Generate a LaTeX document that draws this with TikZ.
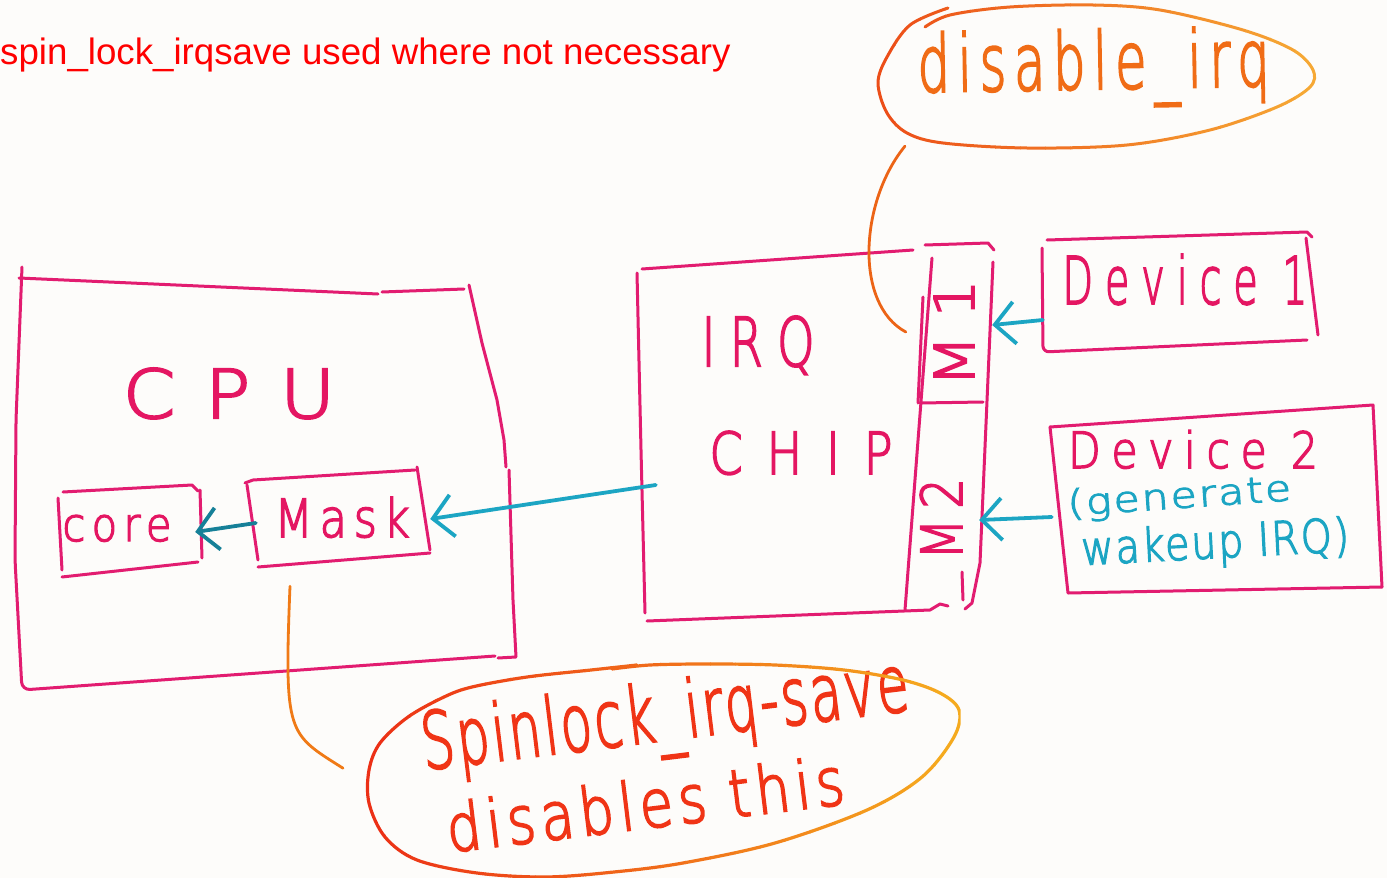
\documentclass[tikz,border=0pt]{standalone}
\usepackage{fontspec}
\usepackage{graphicx}
\usetikzlibrary{arrows.meta,shapes.geometric}
\newfontfamily\titlefont{Liberation Sans}
\newfontfamily\handfont{DejaVu Sans ExtraLight}[FakeBold=3]
% marker lettering: width, height above baseline, letter spacing, text
\newcommand\penlabel[4]{\resizebox{#1pt}{#2pt}{\addfontfeature{LetterSpace=#3}#4}}
\definecolor{paper}{RGB}{253,252,250}
\definecolor{pen}{RGB}{226,28,112}
\definecolor{penink}{RGB}{228,22,98}
\definecolor{wireink}{RGB}{28,165,195}
\definecolor{deepwire}{RGB}{22,128,152}
\definecolor{noteink}{RGB}{240,108,22}
\definecolor{noteredink}{RGB}{240,52,22}
\definecolor{topleft}{RGB}{236,78,24}
\definecolor{topright}{RGB}{246,168,52}
\definecolor{lowleft}{RGB}{236,48,22}
\definecolor{lowright}{RGB}{245,170,30}
\definecolor{hookorange}{RGB}{240,122,22}
\definecolor{irqhook}{RGB}{236,100,22}

% hand-drawn ovals
\def\irqoval{plot[smooth,tension=0.55] coordinates {(948,8) (910,25) (887,57) (878,83) (887,113) (907,133) (943,143) (1027,148) (1127,145) (1210,130) (1277,107) (1310,87) (1313,70) (1293,50) (1243,30) (1160,10) (1093,5) (1010,7) (950,15) (925,27)}}
\def\lockoval{plot[smooth,tension=0.55] coordinates {(637,665) (591,670) (527,677) (472,687) (444,697) (408,717) (380,743) (369,770) (369,803) (385,837) (417,860) (477,873) (545,877) (614,872) (683,863) (775,843) (867,810) (922,777) (954,737) (959,710) (940,693) (903,680) (844,670) (775,665) (706,664) (650,665) (612,669)}}

\begin{document}
\begin{tikzpicture}[x=1pt,y=-1pt,
  sketch/.style={draw=pen,line width=3pt,line cap=round,line join=round},
  frame/.style={rectangle,draw=none,inner sep=0pt},
  pentext/.style={font=\handfont,inner sep=0pt,anchor=base},
  wire/.style={draw=wireink,line width=3.8pt,line cap=round,
    -{Straight Barb[length=20pt,width=42pt]}},
  hint/.style={line width=2.8pt,line cap=round}]

\fill[paper] (0,0) rectangle (1387,878);
\useasboundingbox (0,0) rectangle (1387,878);

% heading
\node[anchor=base west,inner sep=0pt,text=red,
  font={\titlefont\fontsize{36.7pt}{40pt}\selectfont}] (title) at (0,64)
  {spin\_lock\_irqsave used where not necessary};

% outline frames used as anchors
\node[frame,minimum width=495pt,minimum height=412pt] (cpu) at (265,483) {};
\node[frame,minimum width=138pt,minimum height=85pt] (core) at (130,530) {};
\node[frame,minimum width=180pt,minimum height=92pt] (mask) at (340,515) {};
\node[frame,minimum width=278pt,minimum height=360pt] (chip) at (780,437) {};
\node[frame,minimum width=66pt,minimum height=158pt] (mone) at (959,324) {};
\node[frame,minimum width=68pt,minimum height=206pt] (mtwo) at (945,506) {};
\node[frame,minimum width=270pt,minimum height=114pt] (devone) at (1178,293) {};
\node[frame,minimum width=328pt,minimum height=182pt] (devtwo) at (1216,500) {};
\node[ellipse,draw=none,minimum width=436pt,minimum height=144pt,rotate=1] (dirq) at (1096,77) {};
\node[ellipse,draw=none,minimum width=594pt,minimum height=200pt,rotate=7] (slock) at (663,770) {};

% CPU outline
\draw[sketch,rounded corners=8pt] (22,267) -- (16,420) -- (15,560) -- (22,690) -- (495,656);
\draw[sketch] (19,278) -- (378,294);
\draw[sketch] (382,292) -- (464,289);
\draw[sketch] (469,285) -- (482,343) -- (497,400) -- (504,440) -- (506,467);
\draw[sketch] (509,470) -- (513,600) -- (516,657) -- (498,658);

% core and mask
\draw[sketch] (63,492) -- (192,485) -- (198,491);
\draw[sketch] (58,498) -- (62,570);
\draw[sketch] (200,490) -- (202,558);
\draw[sketch] (62,577) -- (198,562);
\draw[sketch] (245,483) -- (253,480) -- (415,470);
\draw[sketch] (247,485) -- (258,560);
\draw[sketch] (417,467) -- (430,550);
\draw[sketch] (258,567) -- (430,553);

% IRQ chip with its mask strip
\draw[sketch] (642,269) -- (913,250);
\draw[sketch] (637,273) -- (641,450) -- (645,613);
\draw[sketch] (647,621) -- (930,610) -- (940,604) -- (948,606);
\draw[sketch] (932,258) -- (905,610);
\draw[sketch] (923,297) -- (918,403);
\draw[sketch] (925,245) -- (988,243) -- (994,250);
\draw[sketch] (993,262) -- (980,563) -- (972,603) -- (965,609);
\draw[sketch] (920,403) -- (983,402);
\draw[sketch] (962,572) -- (963,600);

% devices
\draw[sketch] (1047,240) -- (1307,232) -- (1312,237);
\draw[sketch] (1306,238) -- (1318,335);
\draw[sketch,rounded corners=6pt] (1042,248) -- (1043,352) -- (1307,340);
\draw[sketch] (1050,427) -- (1373,405) -- (1382,587);
\draw[sketch] (1050,427) -- (1068,593) -- (1382,587);

% lettering
\node[pentext,text=penink] (cputxt) at (229,418) {\penlabel{212}{50}{40}{CPU}};
\node[pentext,text=penink] (coretxt) at (117,541) {\penlabel{109}{26}{15}{core}};
\node[pentext,text=penink] (masktxt) at (342,537) {\penlabel{135}{40}{15}{Mask}};
\node[pentext,text=penink] (irqtxt) at (758,366) {\penlabel{113}{50}{30}{IRQ}};
\node[pentext,text=penink] (chiptxt) at (801,474) {\penlabel{183}{43}{50}{CHIP}};
\node[pentext,text=penink,rotate=90] (monetxt) at (974,333) {\penlabel{107}{40}{30}{M1}};
\node[pentext,text=penink,rotate=90] (mtwotxt) at (962,519) {\penlabel{82}{42}{20}{M2}};
\node[pentext,text=penink] (devonetxt) at (1185,304) {\penlabel{245}{50}{30}{Device 1}};
\node[pentext,text=penink] (devtwotxt) at (1193,468) {\penlabel{250}{38}{25}{Device 2}};
\node[pentext,text=wireink,rotate=4] (gentxt) at (1180,508) {\penlabel{224}{27}{5}{(generate}};
\node[pentext,text=wireink,rotate=3] (waketxt) at (1216,558) {\penlabel{268}{35}{5}{wakeup IRQ)}};
\node[pentext,text=noteink,rotate=1] (dirqtxt) at (1094,89) {\penlabel{352}{60}{15}{disable\_irq}};
\node[pentext,text=noteredink,rotate=7] (locktxt) at (668,740) {\penlabel{490}{60}{5}{Spinlock\_irq-save}};
\node[pentext,text=noteredink,rotate=7] (disabtxt) at (648,828) {\penlabel{400}{50}{10}{disables this}};

% interrupt wiring
\draw[wire] ([yshift=-27pt]devone.west) -- ([yshift=-1pt]mone.east);
\draw[wire] ([yshift=-17pt]devtwo.west) -- ([yshift=-14pt]mtwo.east);
\draw[wire] ([xshift=15pt,yshift=-48pt]chip.west) -- ([yshift=-4pt]mask.east);
\draw[wire,draw=deepwire] ([xshift=6pt,yshift=-8pt]mask.west) -- ([xshift=-4pt,yshift=-2pt]core.east);

% callout ovals, ink fading from red to yellow
\foreach \i in {0,...,17}{
  \pgfmathsetmacro\mix{100*\i/17}
  \begin{scope}
    \clip (870+25*\i,0) rectangle ++(25.5,160);
    \draw[hint,line width=3pt,draw=topright!\mix!topleft] \irqoval;
  \end{scope}
}
\foreach \i in {0,...,23}{
  \pgfmathsetmacro\mix{100*\i/23}
  \begin{scope}
    \clip (360+25*\i,650) rectangle ++(25.5,230);
    \draw[hint,line width=3.2pt,draw=lowright!\mix!lowleft] \lockoval;
  \end{scope}
}

% callout leaders
\draw[hint,draw=irqhook] ([xshift=-27pt,yshift=-19pt]dirq.196)
  .. controls +(-45,55) and +(-52,-28) .. ([xshift=-20pt,yshift=-8pt]mone.west);
\draw[hint,draw=hookorange] ([xshift=-50pt,yshift=-25pt]mask.south)
  .. controls +(-6,150) and +(-55,-35) .. ([xshift=-25pt,yshift=38pt]slock.west);

\end{tikzpicture}
\end{document}
